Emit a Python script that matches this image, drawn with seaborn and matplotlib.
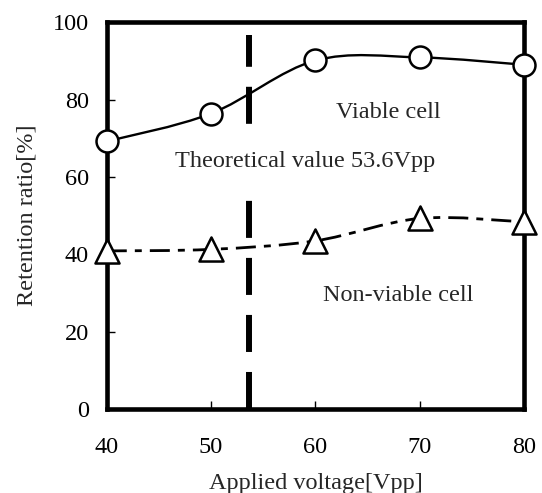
import numpy as np
import matplotlib
matplotlib.use("Agg")
import matplotlib.pyplot as plt
from matplotlib.path import Path
from matplotlib.patches import PathPatch
import seaborn as sns
import pandas as pd

# 读取的数据
voltage = [40, 50, 60, 70, 80]
viable = [69.2, 76.4, 90.1, 90.9, 89.0]
non_viable = [40.9, 41.3, 43.5, 49.3, 48.4]
theory_v = 53.6

sns.set_theme(style="ticks")
plt.rcParams['font.family'] = ['Liberation Serif', 'DejaVu Serif']
FS = 17.5


def smooth_path(xs, ys):
    # Excel 风格平滑线 (Bezier)
    p = np.column_stack([xs, ys]).astype(float)
    ext = np.vstack([p[0], p, p[-1]])
    verts = [tuple(p[0])]
    codes = [Path.MOVETO]
    for i in range(len(p) - 1):
        c1 = ext[i + 1] + (ext[i + 2] - ext[i]) / 6
        c2 = ext[i + 2] - (ext[i + 3] - ext[i + 1]) / 6
        verts += [tuple(c1), tuple(c2), tuple(p[i + 1])]
        codes += [Path.CURVE4] * 3
    return Path(verts, codes)


df = pd.DataFrame({'V': voltage, 'viable': viable, 'non': non_viable})

fig = plt.figure(figsize=(5.42, 4.93), dpi=100)
ax = fig.add_axes([0.197, 0.170, 0.770, 0.785])

ax.add_patch(PathPatch(smooth_path(voltage, viable), fill=False,
                       lw=1.7, color='black', zorder=3))
ax.add_patch(PathPatch(smooth_path(voltage, non_viable), fill=False,
                       lw=2.0, color='black', zorder=3,
                       linestyle=(0, (7.2, 2.9, 2.5, 2.9))))

ax.axvline(theory_v, ymin=0, ymax=0.966, color='black', lw=4.3,
           linestyle=(0, (6.2, 3.35)), zorder=2)

sns.scatterplot(data=df, x='V', y='viable', marker='o', s=250,
                facecolor='white', edgecolor='black', linewidth=1.8,
                ax=ax, zorder=6, clip_on=False)
sns.scatterplot(data=df, x='V', y='non', marker='^', s=300,
                facecolor='white', edgecolor='black', linewidth=1.8,
                ax=ax, zorder=6, clip_on=False)

ax.text(67.0, 75.2, 'Viable cell', ha='center', va='baseline', fontsize=FS)
ax.text(59.0, 62.6, 'Theoretical value 53.6Vpp', ha='center', va='baseline',
        fontsize=FS, zorder=2.5,
        bbox=dict(facecolor='white', edgecolor='none', boxstyle='square,pad=0.4'))
ax.text(67.9, 28.0, 'Non-viable cell', ha='center', va='baseline', fontsize=FS)

ax.set_xlim(40, 80)
ax.set_ylim(0, 100)
ax.set_xticks([40, 50, 60, 70, 80])
ax.set_yticks([0, 20, 40, 60, 80, 100])
ax.tick_params(direction='in', length=5.5, width=1, labelsize=FS,
               colors='black')
ax.tick_params(axis='x', pad=20)
ax.tick_params(axis='y', pad=13)
for s in ax.spines.values():
    s.set_linewidth(3.3)
    s.set_color('black')
ax.set_xlabel('Applied voltage[Vpp]', fontsize=FS, labelpad=11)
ax.set_ylabel('Retention ratio[%]', fontsize=FS, labelpad=11)

fig.savefig('out.png', dpi=100)
